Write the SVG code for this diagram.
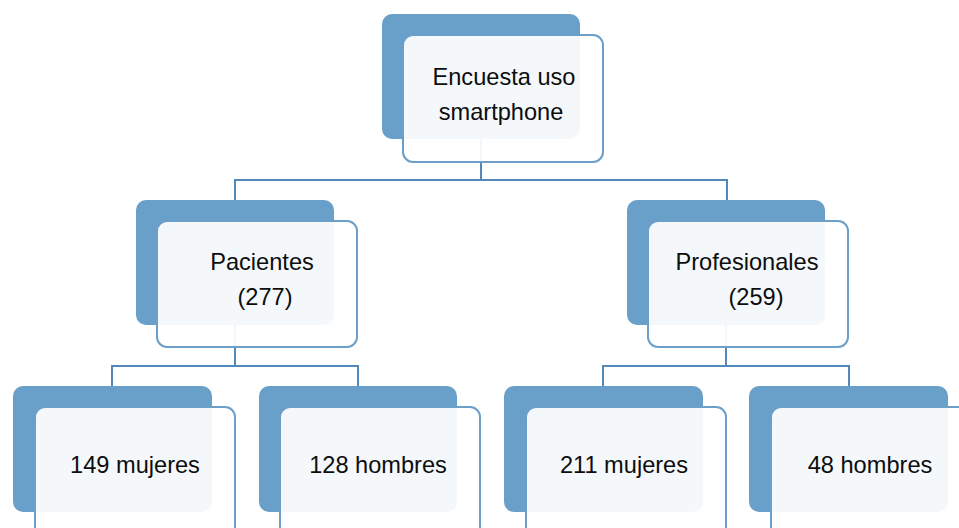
<svg xmlns="http://www.w3.org/2000/svg" width="959" height="528" viewBox="0 0 959 528">
<style>
.back{fill:#69a0c9;}
.front{fill:#ffffff;fill-opacity:0.93;stroke:#6b9fca;stroke-width:2;}
.conn{fill:none;stroke:#5289ba;stroke-width:2;}
text{font-family:"Liberation Sans",Arial,Helvetica,sans-serif;font-size:23.6px;fill:#0d0d0d;text-anchor:middle;}
</style>
<rect width="959" height="528" fill="#ffffff"/>
<g id="connectors">
<path class="conn" d="M481 139 V180 M235 200 V180 H727 V200"/>
<path class="conn" d="M235 325 V366 M112 386 V366 H358 V386"/>
<path class="conn" d="M726 325 V366 M603 386 V366 H849 V386"/>
</g>
<g id="node-encuesta">
<rect class="back" x="382" y="14" width="198" height="125" rx="10"/>
<rect class="front" x="403" y="35" width="200" height="127" rx="10"/>
<text x="504" y="85">Encuesta uso</text>
<text x="501" y="120">smartphone</text>
</g>
<g id="node-pacientes">
<rect class="back" x="136" y="200" width="198" height="125" rx="10"/>
<rect class="front" x="157" y="221" width="200" height="126" rx="10"/>
<text x="262" y="270">Pacientes</text>
<text x="265" y="305">(277)</text>
</g>
<g id="node-profesionales">
<rect class="back" x="627" y="200" width="198" height="125" rx="10"/>
<rect class="front" x="648" y="221" width="200" height="126" rx="10"/>
<text x="747" y="270">Profesionales</text>
<text x="756" y="305">(259)</text>
</g>
<g id="node-149-mujeres">
<rect class="back" x="13" y="386" width="199" height="126" rx="10"/>
<rect class="front" x="35" y="407" width="200" height="130" rx="10"/>
<text x="135" y="473">149 mujeres</text>
</g>
<g id="node-128-hombres">
<rect class="back" x="259" y="386" width="198" height="126" rx="10"/>
<rect class="front" x="280" y="407" width="200" height="130" rx="10"/>
<text x="378" y="473">128 hombres</text>
</g>
<g id="node-211-mujeres">
<rect class="back" x="504" y="386" width="199" height="126" rx="10"/>
<rect class="front" x="526" y="407" width="200" height="130" rx="10"/>
<text x="624" y="473">211 mujeres</text>
</g>
<g id="node-48-hombres">
<rect class="back" x="749" y="386" width="199" height="126" rx="10"/>
<rect class="front" x="771" y="407" width="200" height="130" rx="10"/>
<text x="870" y="473">48 hombres</text>
</g>
</svg>
